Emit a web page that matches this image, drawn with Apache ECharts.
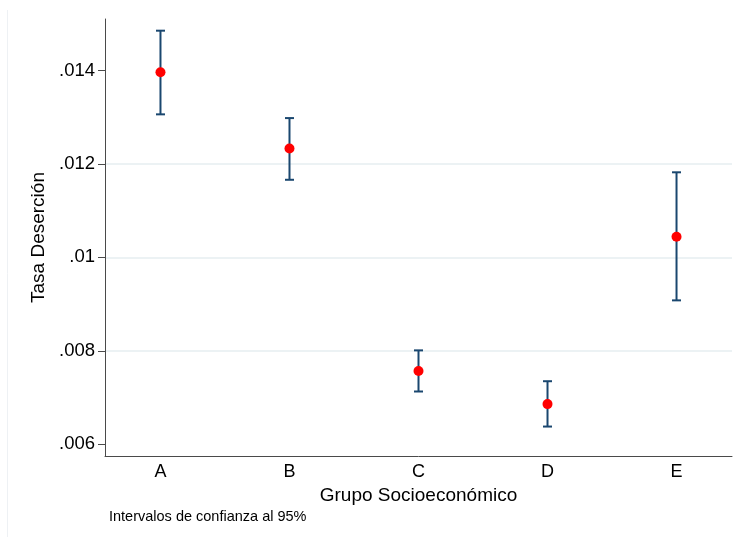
<!DOCTYPE html>
<html>
<head>
<meta charset="utf-8">
<script src="https://cdn.jsdelivr.net/npm/echarts@6/dist/echarts.min.js"></script>
<style>html,body{margin:0;padding:0;background:#fff}#c{width:740px;height:537px}</style>
</head>
<body>
<div id="c"></div>
<script>
const categories = ['A', 'B', 'C', 'D', 'E'];
const xPositions = [1, 2, 3, 4, 5];
const estimate = [0.01396, 0.01233, 0.00757, 0.00686, 0.01044];
const lower    = [0.01306, 0.01166, 0.00713, 0.00638, 0.00908];
const upper    = [0.01485, 0.01298, 0.00801, 0.00735, 0.01182];
const yTicks = [0.006, 0.008, 0.010, 0.012, 0.014];
const xTitle = 'Grupo Socioeconómico';
const yTitle = 'Tasa Deserción';
const note = 'Intervalos de confianza al 95%';

const FONT = '"Liberation Sans", Arial, sans-serif';
const chart = echarts.init(document.getElementById('c'), null, {renderer: 'canvas'});

const fmtY = v => {
  const s = String(+(+v).toFixed(3));
  return s.replace(/^0(?=\.)/, '');
};

chart.setOption({
  animation: false,
  backgroundColor: '#fff',
  textStyle: {fontFamily: FONT},
  grid: {left: 105, right: 8, top: 19, bottom: 81, containLabel: false},
  xAxis: {
    type: 'value',
    min: 0.57, max: 5.43,
    name: xTitle,
    nameLocation: 'middle',
    nameGap: 28,
    nameTextStyle: {fontSize: 19, color: '#000', fontFamily: FONT},
    axisLine: {show: true, onZero: false, lineStyle: {color: '#4a4a4a', width: 1}},
    axisTick: {show: false},
    splitLine: {show: false},
    axisLabel: {
      customValues: xPositions,
      fontSize: 18, color: '#000', margin: 7, fontFamily: FONT,
      formatter: v => categories[xPositions.indexOf(Math.round(v))] || ''
    }
  },
  yAxis: {
    type: 'value',
    min: 0.00575, max: 0.0151,
    name: yTitle,
    nameLocation: 'middle',
    nameGap: 50,
    nameTextStyle: {fontSize: 19, color: '#000', fontFamily: FONT},
    axisLine: {show: true, onZero: false, lineStyle: {color: '#4a4a4a', width: 1}},
    axisTick: {show: true, customValues: yTicks, length: 7, lineStyle: {color: '#4a4a4a'}},
    axisLabel: {customValues: yTicks, fontSize: 18.5, color: '#000', margin: 10, fontFamily: FONT, formatter: fmtY},
    splitLine: {show: true, showMinLine: false, showMaxLine: false, lineStyle: {color: '#e6eef1', width: 1.5}}
  },
  graphic: [
    {type: 'line', shape: {x1: 7.5, y1: 10, x2: 7.5, y2: 537}, style: {stroke: '#eef1f4', lineWidth: 1}, silent: true},
    {type: 'text', left: 109, top: 509, style: {text: note, font: '14.5px ' + FONT, fill: '#000'}}
  ],
  series: [
    {
      type: 'custom',
      data: xPositions.map((x, i) => [x, lower[i], upper[i]]),
      encode: {x: 0, y: [1, 2]},
      renderItem: (params, api) => {
        const x = api.value(0);
        const lo = api.coord([x, api.value(1)]);
        const hi = api.coord([x, api.value(2)]);
        const hw = 4.5;
        const st = {stroke: '#1a476f', lineWidth: 2};
        return {
          type: 'group',
          children: [
            {type: 'line', shape: {x1: lo[0], y1: lo[1], x2: hi[0], y2: hi[1]}, style: st},
            {type: 'line', shape: {x1: lo[0] - hw, y1: lo[1], x2: lo[0] + hw, y2: lo[1]}, style: st},
            {type: 'line', shape: {x1: hi[0] - hw, y1: hi[1], x2: hi[0] + hw, y2: hi[1]}, style: st}
          ]
        };
      },
      z: 2
    },
    {
      type: 'scatter',
      data: xPositions.map((x, i) => [x, estimate[i]]),
      symbol: 'circle',
      symbolSize: 10,
      itemStyle: {color: '#ff0000', opacity: 1},
      z: 3
    }
  ]
});
</script>
</body>
</html>
